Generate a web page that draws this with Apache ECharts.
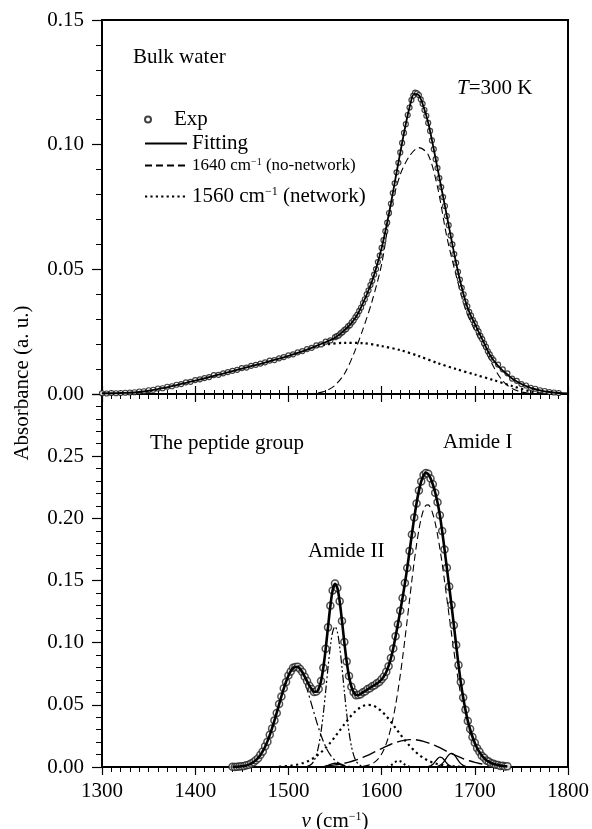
<!DOCTYPE html>
<html>
<head>
<meta charset="utf-8">
<script src="https://cdn.jsdelivr.net/npm/echarts@6/dist/echarts.min.js"></script>
<style>
html,body{margin:0;padding:0;background:#fff;}
#chart{width:592px;height:829px;}
</style>
</head>
<body>
<div id="chart"></div>
<script>
// ---------------- Top panel: bulk water ----------------
const topExpX = [1300,1305,1310,1315,1320,1325,1330,1335,1340,1345,1350,1355,1360,1365,1370,1375,1380,1385,1390,1395,1400,1405,1410,1415,1420,1425,1430,1435,1440,1445,1450,1455,1460,1465,1470,1475,1480,1485,1490,1495,1500,1505,1510,1515,1520,1525,1530,1535,1540,1545,1550,
1552,1554,1556,1558,1560,1562,1564,1566,1568,1570,1572,1574,1576,1578,1580,1582,1584,1586,1588,1590,1592,1594,1596,1598,1600,1602,1604,1606,1608,1610,1612,1614,1616,1618,1620,1622,1624,1626,1628,1630,1632,1634,1636,1638,1640,1642,1644,1646,1648,1650,1652,1654,1656,1658,1660,1662,1664,1666,1668,1670,1672,1674,1676,1678,1680,1682,1684,1686,1688,1690,1692,1694,1696,1698,1700,1702,1704,1706,1708,1710,1712,1714,1716,1718,1720,
1725,1730,1735,1740,1745,1750,1755,1760,1765,1770,1775,1780,1785,1790];
const topExpY = [0.0003,0.0002,0.0004,0.0003,0.0004,0.0005,0.0006,0.0007,0.0010,0.0011,0.0015,0.0017,0.0022,0.0023,0.0029,0.0031,0.0037,0.0040,0.0047,0.0049,0.0056,0.0059,0.0064,0.0068,0.0076,0.0077,0.0083,0.0088,0.0093,0.0097,0.0104,0.0106,0.0113,0.0117,0.0122,0.0127,0.0134,0.0136,0.0143,0.0148,0.0155,0.0159,0.0167,0.0172,0.0180,0.0185,0.0195,0.0199,0.0210,0.0215,0.0228,
0.0232,0.0235,0.0243,0.0248,0.0256,0.0261,0.0271,0.0276,0.0287,0.0295,0.0308,0.0318,0.0333,0.0347,0.0365,0.0380,0.0400,0.0416,0.0437,0.0454,0.0479,0.0501,0.0529,0.0555,0.0586,0.0617,0.0653,0.0687,0.0726,0.0763,0.0806,0.0845,0.0889,0.0927,0.0969,0.1007,0.1047,0.1082,0.1119,0.1149,0.1179,0.1197,0.1209,0.1206,0.1199,0.1182,0.1164,0.1139,0.1116,0.1087,0.1055,0.1017,0.0982,0.0942,0.0906,0.0866,0.0830,0.0790,0.0754,0.0714,0.0677,0.0636,0.0600,0.0561,0.0526,0.0490,0.0459,0.0426,0.0400,0.0371,0.0352,0.0329,0.0314,0.0296,0.0283,0.0265,0.0251,0.0233,0.0220,0.0203,0.0189,0.0171,0.0159,0.0145,0.0136,
0.0118,0.0099,0.0083,0.0062,0.0053,0.0040,0.0034,0.0025,0.0021,0.0015,0.0012,0.0008,0.0006,0.0004];

const topFitX = [1300,1310,1320,1330,1340,1350,1360,1370,1380,1390,1400,1410,1420,1430,1440,1450,1460,1470,1480,1490,1500,1510,1520,1530,1540,1545,1550,1555,1560,1565,1570,1575,1580,1585,1590,1595,1600,1605,1610,1615,1620,1625,1630,1635,1640,1645,1650,1655,1660,1665,1670,1675,1680,1685,1690,1695,1700,1705,1710,1715,1720,1725,1730,1735,1740,1745,1750,1755,1760,1770,1780,1790,1800];
const topFitY = [0.0003,0.0003,0.0004,0.0005,0.0008,0.0013,0.0020,0.0027,0.0036,0.0045,0.0054,0.0063,0.0073,0.0082,0.0092,0.0102,0.0112,0.0121,0.0132,0.0142,0.0153,0.0165,0.0178,0.0193,0.0208,0.0216,0.0226,0.0239,0.0255,0.0273,0.0296,0.0325,0.0364,0.0407,0.0455,0.0515,0.0585,0.0670,0.0764,0.0867,0.0968,0.1065,0.1150,0.1204,0.1198,0.1152,0.1088,0.1000,0.0905,0.0810,0.0715,0.0618,0.0525,0.0442,0.0372,0.0320,0.0282,0.0242,0.0204,0.0165,0.0135,0.0113,0.0094,0.0078,0.0062,0.0050,0.0040,0.0032,0.0025,0.0015,0.0008,0.0004,0.0002];

const top1640X = [1520,1530,1540,1550,1560,1570,1580,1590,1600,1610,1620,1630,1640,1650,1660,1670,1680,1690,1700,1710,1720,1730,1740,1750,1760];
const top1640Y = [0.0000,0.0003,0.0012,0.0035,0.0080,0.0160,0.0260,0.0375,0.0520,0.0740,0.0880,0.0955,0.0988,0.0960,0.0830,0.0630,0.0475,0.0340,0.0255,0.0185,0.0110,0.0052,0.0022,0.0008,0.0002];

const top1560X = [1300,1320,1340,1360,1380,1400,1420,1440,1460,1480,1500,1520,1540,1560,1580,1600,1620,1640,1660,1680,1700,1720,1740,1760,1770];
const top1560Y = [0.0002,0.0004,0.0008,0.0020,0.0036,0.0054,0.0073,0.0092,0.0112,0.0132,0.0153,0.0178,0.0198,0.0205,0.0204,0.0192,0.0176,0.0152,0.0124,0.0100,0.0078,0.0056,0.0032,0.0010,0.0003];

// ---------------- Bottom panel: peptide group ----------------
const botX = [1440,1442.5,1445,1447.5,1450,1452.5,1455,1457.5,1460,1462.5,1465,1467.5,1470,1472.5,1475,1477.5,1480,1482.5,1485,1487.5,1490,1492.5,1495,1497.5,1500,1502.5,1505,1507.5,1510,1512.5,1515,1517.5,1520,1522.5,1525,1527.5,1530,1532.5,1535,1537.5,1540,1542.5,1545,1547.5,1550,1552.5,1555,1557.5,1560,1562.5,1565,1567.5,1570,1572.5,1575,1577.5,1580,1582.5,1585,1587.5,1590,1592.5,1595,1597.5,1600,1602.5,1605,1607.5,1610,1612.5,1615,1617.5,1620,1622.5,1625,1627.5,1630,1632.5,1635,1637.5,1640,1642.5,1645,1647.5,1650,1652.5,1655,1657.5,1660,1662.5,1665,1667.5,1670,1672.5,1675,1677.5,1680,1682.5,1685,1687.5,1690,1692.5,1695,1697.5,1700,1702.5,1705,1707.5,1710,1712.5,1715,1717.5,1720,1722.5,1725,1727.5,1730,1732.5,1735];
const botFitY = [0.0001,0.0001,0.0002,0.0004,0.0006,0.0009,0.0013,0.0019,0.0027,0.0039,0.0053,0.0073,0.0097,0.0127,0.0163,0.0206,0.0256,0.0312,0.0372,0.0437,0.0503,0.0569,0.0631,0.0686,0.0734,0.0771,0.0796,0.0806,0.0804,0.0790,0.0762,0.0727,0.0690,0.0655,0.0625,0.0605,0.0605,0.0630,0.0690,0.0800,0.0950,0.1125,0.1295,0.1422,0.1473,0.1441,0.1332,0.1176,0.1003,0.0850,0.0730,0.0648,0.0600,0.0580,0.0578,0.0588,0.0600,0.0612,0.0625,0.0636,0.0648,0.0659,0.0671,0.0686,0.0704,0.0730,0.0764,0.0813,0.0875,0.0955,0.1050,0.1151,0.1255,0.1362,0.1477,0.1602,0.1735,0.1872,0.2004,0.2122,0.2221,0.2298,0.2346,0.2366,0.2356,0.2323,0.2272,0.2208,0.2128,0.2026,0.1896,0.1752,0.1601,0.1454,0.1301,0.1143,0.0980,0.0823,0.0681,0.0561,0.0459,0.0372,0.0303,0.0243,0.0194,0.0153,0.0120,0.0093,0.0072,0.0055,0.0043,0.0032,0.0025,0.0020,0.0015,0.0011,0.0008,0.0006,0.0004];
const botExpY = [0.0002,0.0000,0.0003,0.0004,0.0007,0.0008,0.0014,0.0018,0.0029,0.0038,0.0055,0.0071,0.0099,0.0125,0.0166,0.0204,0.0259,0.0310,0.0375,0.0435,0.0506,0.0567,0.0633,0.0684,0.0736,0.0769,0.0798,0.0804,0.0806,0.0788,0.0764,0.0725,0.0692,0.0653,0.0627,0.0603,0.0607,0.0628,0.0692,0.0798,0.0952,0.1123,0.1297,0.1420,0.1475,0.1439,0.1334,0.1174,0.1005,0.0848,0.0732,0.0646,0.0602,0.0578,0.0580,0.0586,0.0602,0.0610,0.0627,0.0634,0.0650,0.0657,0.0673,0.0684,0.0706,0.0728,0.0766,0.0811,0.0877,0.0953,0.1052,0.1149,0.1257,0.1360,0.1479,0.1600,0.1737,0.1870,0.2006,0.2120,0.2223,0.2296,0.2348,0.2364,0.2358,0.2321,0.2274,0.2206,0.2130,0.2024,0.1898,0.1750,0.1603,0.1452,0.1303,0.1141,0.0982,0.0821,0.0683,0.0559,0.0461,0.0370,0.0305,0.0241,0.0196,0.0151,0.0122,0.0091,0.0074,0.0053,0.0045,0.0030,0.0027,0.0018,0.0017,0.0009,0.0010,0.0004,0.0006];

const c1508X = [1450,1455,1460,1465,1470,1475,1480,1485,1490,1495,1500,1505,1510,1515,1520,1525,1530,1535,1540,1545,1550,1555,1560,1565,1570,1575];
const c1508Y = [0.0006,0.0013,0.0027,0.0053,0.0097,0.0163,0.0255,0.0371,0.0500,0.0626,0.0726,0.0783,0.0783,0.0726,0.0626,0.0500,0.0371,0.0255,0.0163,0.0097,0.0053,0.0027,0.0013,0.0006,0.0002,0.0001];

const c1550X = [1520,1522.5,1525,1527.5,1530,1532.5,1535,1537.5,1540,1542.5,1545,1547.5,1550,1552.5,1555,1557.5,1560,1562.5,1565,1567.5,1570,1572.5,1575,1577.5,1580];
const c1550Y = [0.0004,0.0011,0.0024,0.0050,0.0096,0.0171,0.0282,0.0431,0.0610,0.0799,0.0969,0.1087,0.1130,0.1087,0.0969,0.0799,0.0610,0.0431,0.0282,0.0171,0.0096,0.0050,0.0024,0.0011,0.0004];

const c1586X = [1490,1495,1500,1505,1510,1515,1520,1525,1530,1535,1540,1545,1550,1555,1560,1565,1570,1575,1580,1585,1590,1595,1600,1605,1610,1615,1620,1625,1630,1635,1640,1645,1650,1655,1660,1665,1670,1675,1680,1685,1690];
const c1586Y = [0.0003,0.0005,0.0008,0.0013,0.0020,0.0030,0.0044,0.0063,0.0088,0.0118,0.0154,0.0196,0.0243,0.0293,0.0343,0.0391,0.0434,0.0467,0.0490,0.0500,0.0496,0.0478,0.0448,0.0409,0.0363,0.0313,0.0263,0.0215,0.0171,0.0132,0.0099,0.0072,0.0051,0.0035,0.0024,0.0016,0.0010,0.0006,0.0004,0.0002,0.0001];

const c1632X = [1540,1545,1550,1555,1560,1565,1570,1575,1580,1585,1590,1595,1600,1605,1610,1615,1620,1625,1630,1635,1640,1645,1650,1655,1660,1665,1670,1675,1680,1685,1690,1695,1700,1705,1710,1715,1720,1725,1730];
const c1632Y = [0.0008,0.0012,0.0017,0.0022,0.0030,0.0039,0.0050,0.0063,0.0078,0.0094,0.0112,0.0130,0.0148,0.0166,0.0183,0.0197,0.0208,0.0216,0.0220,0.0220,0.0215,0.0206,0.0194,0.0180,0.0163,0.0145,0.0126,0.0108,0.0091,0.0075,0.0060,0.0048,0.0037,0.0028,0.0021,0.0016,0.0011,0.0008,0.0005];

const c1649X = [1580,1582.5,1585,1587.5,1590,1592.5,1595,1597.5,1600,1602.5,1605,1607.5,1610,1612.5,1615,1617.5,1620,1622.5,1625,1627.5,1630,1632.5,1635,1637.5,1640,1642.5,1645,1647.5,1650,1652.5,1655,1657.5,1660,1662.5,1665,1667.5,1670,1672.5,1675,1677.5,1680,1682.5,1685,1687.5,1690,1692.5,1695,1697.5,1700,1702.5,1705,1707.5,1710,1712.5,1715,1717.5,1720,1722.5,1725,1727.5,1730,1732.5,1735];
const c1649Y = [0.0006,0.0009,0.0013,0.0019,0.0027,0.0039,0.0055,0.0077,0.0105,0.0141,0.0188,0.0245,0.0315,0.0399,0.0498,0.0610,0.0738,0.0877,0.1027,0.1184,0.1344,0.1502,0.1652,0.1789,0.1907,0.2002,0.2068,0.2104,0.2108,0.2084,0.2035,0.1963,0.1869,0.1759,0.1634,0.1499,0.1357,0.1215,0.1073,0.0937,0.0807,0.0687,0.0577,0.0479,0.0393,0.0318,0.0255,0.0201,0.0157,0.0121,0.0092,0.0069,0.0051,0.0037,0.0027,0.0019,0.0014,0.0010,0.0007,0.0005,0.0003,0.0002,0.0001];

const s1663X = [1650,1652.5,1655,1657.5,1660,1662.5,1665,1667.5,1670,1672.5,1675,1677.5];
const s1663Y = [0.0003,0.0009,0.0022,0.0044,0.0067,0.0080,0.0074,0.0054,0.0030,0.0013,0.0004,0.0001];
const s1675X = [1660,1662.5,1665,1667.5,1670,1672.5,1675,1677.5,1680,1682.5,1685,1687.5,1690];
const s1675Y = [0.0005,0.0013,0.0027,0.0050,0.0078,0.0101,0.0110,0.0101,0.0078,0.0050,0.0027,0.0013,0.0005];
const s1618X = [1605,1607.5,1610,1612.5,1615,1617.5,1620,1622.5,1625,1627.5,1630];
const s1618Y = [0.0001,0.0006,0.0014,0.0027,0.0042,0.0050,0.0046,0.0034,0.0019,0.0008,0.0002];
const s1550X = [1537.5,1540,1542.5,1545,1547.5,1550,1552.5,1555,1557.5,1560,1562.5];
const s1550Y = [0.0002,0.0007,0.0014,0.0021,0.0028,0.0030,0.0028,0.0021,0.0014,0.0007,0.0002];

// ---------------- Axis ticks ----------------
const xTicks = [1300, 1800, 100];         // min, max, step
const yTopTicks = [0, 0.15, 0.05];
const yBotTicks = [0, 0.30, 0.05];

// ---------------- Chart ----------------
const SERIF = '"Liberation Serif","DejaVu Serif",serif';
const zip = (xs, ys) => xs.map((x, i) => [x, ys[i]]);
const chart = echarts.init(document.getElementById('chart'), null, {renderer: 'canvas'});

function lineS(name, gi, xs, ys, style, z) {
  return {
    name: name, type: 'line', xAxisIndex: gi === 0 ? 0 : 1, yAxisIndex: gi,
    data: zip(xs, ys), smooth: 0.3, symbol: 'none', silent: true, z: z || 2,
    itemStyle: {color: '#000'},
    lineStyle: Object.assign({color: '#000', width: 1}, style)
  };
}

const axisLineStyle = {lineStyle: {color: '#000', width: 2}};
const lineLegendBase = {left: 144, itemWidth: 42, itemHeight: 6, selectedMode: false, padding: 0,
  itemStyle: {opacity: 0, borderWidth: 0}};

const option = {
  animation: false,
  backgroundColor: '#fff',
  grid: [
    {left: 102, top: 20, width: 466, height: 374, show: true, borderColor: '#000', borderWidth: 2, backgroundColor: 'transparent', outerBoundsMode: 'none'},
    {left: 102, top: 394, width: 466, height: 373, show: true, borderColor: '#000', borderWidth: 2, backgroundColor: 'transparent', outerBoundsMode: 'none'}
  ],
  xAxis: [
    {gridIndex: 0, type: 'value', min: xTicks[0], max: xTicks[1], interval: xTicks[2], position: 'bottom',
     axisLine: axisLineStyle, axisTick: {inside: true, length: 8, lineStyle: {color: '#000', width: 1.2}},
     minorTick: {show: true, splitNumber: 10, length: 4, lineStyle: {color: '#000', width: 1}},
     axisLabel: {show: false}, splitLine: {show: false}, minorSplitLine: {show: false}},
    {gridIndex: 1, type: 'value', min: xTicks[0], max: xTicks[1], interval: xTicks[2], position: 'bottom',
     axisLine: axisLineStyle, axisTick: {inside: false, length: 8, lineStyle: {color: '#000', width: 1.2}},
     minorTick: {show: true, splitNumber: 10, length: 5, lineStyle: {color: '#000', width: 1}},
     axisLabel: {show: true, margin: 14, color: '#000', fontSize: 21, fontFamily: SERIF, formatter: v => String(v)},
     splitLine: {show: false},
     name: '{i|v} (cm{sup|−1})', nameLocation: 'middle', nameGap: 44,
     nameTextStyle: {color: '#000', fontSize: 21, fontFamily: SERIF,
       rich: {i: {fontStyle: 'italic', fontSize: 21, fontFamily: SERIF, color: '#000'},
              sup: {fontSize: 12, fontFamily: SERIF, color: '#000', verticalAlign: 'top'}}}},
    {gridIndex: 1, type: 'value', min: xTicks[0], max: xTicks[1], interval: xTicks[2], position: 'top',
     axisLine: axisLineStyle, axisTick: {inside: true, length: 8, lineStyle: {color: '#000', width: 1.2}},
     minorTick: {show: true, splitNumber: 10, length: 5, lineStyle: {color: '#000', width: 1}},
     axisLabel: {show: false}, splitLine: {show: false}}
  ],
  yAxis: [
    {gridIndex: 0, type: 'value', min: yTopTicks[0], max: yTopTicks[1], interval: yTopTicks[2],
     axisLine: {show: true, lineStyle: {color: '#000', width: 2}},
     axisTick: {show: true, inside: false, length: 10, lineStyle: {color: '#000', width: 1.2}},
     minorTick: {show: true, splitNumber: 5, length: 6, lineStyle: {color: '#000', width: 1}},
     axisLabel: {margin: 18, color: '#000', fontSize: 21, fontFamily: SERIF, formatter: v => v.toFixed(2)},
     splitLine: {show: false}},
    {gridIndex: 1, type: 'value', min: yBotTicks[0], max: yBotTicks[1], interval: yBotTicks[2],
     axisLine: {show: true, lineStyle: {color: '#000', width: 2}},
     axisTick: {show: true, inside: false, length: 10, lineStyle: {color: '#000', width: 1.2}},
     minorTick: {show: true, splitNumber: 5, length: 6, lineStyle: {color: '#000', width: 1}},
     axisLabel: {margin: 18, color: '#000', fontSize: 21, fontFamily: SERIF, showMaxLabel: false, formatter: v => v.toFixed(2)},
     splitLine: {show: false}}
  ],
  legend: [
    {data: ['Exp'], left: 144, top: 109, itemWidth: 42, itemHeight: 6, selectedMode: false, padding: 0,
     textStyle: {color: '#000', fontSize: 21, fontFamily: SERIF}},
    Object.assign({data: ['Fitting'], top: 133,
     textStyle: {color: '#000', fontSize: 21, fontFamily: SERIF}}, lineLegendBase),
    Object.assign({data: ['1640'], top: 157,
     formatter: () => '1640 cm{sup|−1} (no-network)',
     textStyle: {color: '#000', fontSize: 17, fontFamily: SERIF,
       rich: {sup: {fontSize: 10, fontFamily: SERIF, color: '#000', verticalAlign: 'top'}}}}, lineLegendBase),
    Object.assign({data: ['1560'], top: 186,
     formatter: () => '1560 cm{sup|−1} (network)',
     textStyle: {color: '#000', fontSize: 21, fontFamily: SERIF,
       rich: {sup: {fontSize: 12, fontFamily: SERIF, color: '#000', verticalAlign: 'top'}}}}, lineLegendBase)
  ],
  graphic: [
    {type: 'text', x: 22, y: 383, rotation: Math.PI / 2,
     style: {text: 'Absorbance (a. u.)', fill: '#000', font: '21px ' + SERIF, textAlign: 'center', textVerticalAlign: 'middle'}},
    {type: 'text', x: 133, y: 57,
     style: {text: 'Bulk water', fill: '#000', font: '21px ' + SERIF, textAlign: 'left', textVerticalAlign: 'middle'}},
    {type: 'text', x: 457, y: 88,
     style: {text: '{i|T}=300 K', fill: '#000', font: '21px ' + SERIF, textAlign: 'left', textVerticalAlign: 'middle',
       rich: {i: {fontStyle: 'italic', fontSize: 21, fontFamily: SERIF, fill: '#000'}}}},
    {type: 'text', x: 150, y: 443,
     style: {text: 'The peptide group', fill: '#000', font: '21px ' + SERIF, textAlign: 'left', textVerticalAlign: 'middle'}},
    {type: 'text', x: 443, y: 442,
     style: {text: 'Amide I', fill: '#000', font: '21px ' + SERIF, textAlign: 'left', textVerticalAlign: 'middle'}},
    {type: 'text', x: 308, y: 551,
     style: {text: 'Amide II', fill: '#000', font: '21px ' + SERIF, textAlign: 'left', textVerticalAlign: 'middle'}}
  ],
  series: [
    // top panel
    lineS('1560', 0, top1560X, top1560Y, {width: 2.2, type: [2.2, 3.2]}),
    lineS('1640', 0, top1640X, top1640Y, {width: 1.1, type: [7, 4]}),
    {name: 'Exp', type: 'scatter', xAxisIndex: 0, yAxisIndex: 0, data: zip(topExpX, topExpY),
     symbol: 'circle', symbolSize: 5, silent: true, z: 3,
     itemStyle: {color: '#fff', borderColor: '#111', borderWidth: 1.2}},
    lineS('Fitting', 0, topFitX, topFitY, {width: 1.8}, 4),
    // bottom panel components
    lineS('b1508', 1, c1508X, c1508Y, {width: 1.2, type: [9, 3, 2, 3]}),
    lineS('b1550', 1, c1550X, c1550Y, {width: 1.2, type: [8, 2.5, 2, 2.5, 2, 2.5]}),
    lineS('b1586', 1, c1586X, c1586Y, {width: 2.2, type: [2.2, 3.5]}),
    lineS('b1632', 1, c1632X, c1632Y, {width: 1.4, type: [14, 5]}),
    lineS('b1649', 1, c1649X, c1649Y, {width: 1.1, type: [7, 4]}),
    lineS('b1663', 1, s1663X, s1663Y, {width: 1.3}),
    lineS('b1675', 1, s1675X, s1675Y, {width: 1.3}),
    lineS('b1618', 1, s1618X, s1618Y, {width: 2, type: [2, 3]}),
    lineS('b1550s', 1, s1550X, s1550Y, {width: 1.3}),
    {name: 'ExpB', type: 'scatter', xAxisIndex: 1, yAxisIndex: 1, data: zip(botX, botExpY),
     symbol: 'circle', symbolSize: 7, silent: true, z: 3,
     itemStyle: {color: '#fff', borderColor: '#222', borderWidth: 1.5}},
    lineS('FitB', 1, botX, botFitY, {width: 2.6}, 4)
  ]
};
chart.setOption(option);
</script>
</body>
</html>
